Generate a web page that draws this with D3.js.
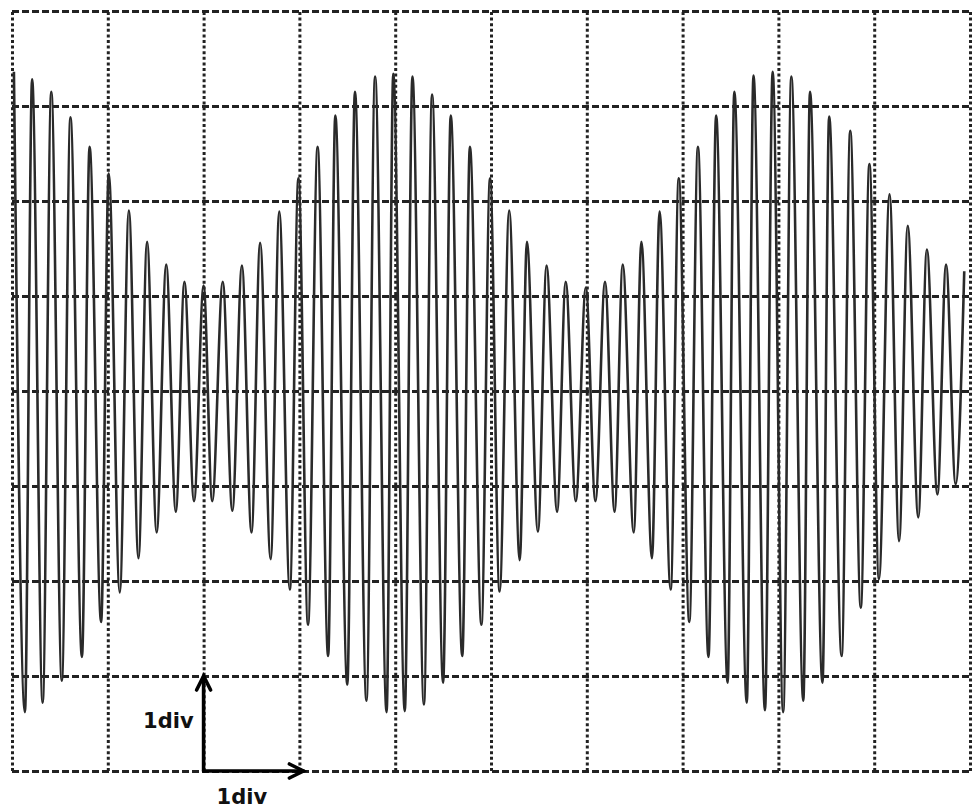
<!DOCTYPE html>
<html>
<head>
<meta charset="utf-8">
<script src="https://cdn.jsdelivr.net/npm/d3@7"></script>
<style>
  html, body { margin: 0; padding: 0; background: #fff; }
  svg { display: block; }
</style>
</head>
<body>
<svg id="scope" width="972" height="808"></svg>
<script>
// time (div) and level (div) of each peak / trough
const extremaT = [
    0.02, 0.135, 0.21, 0.32, 0.41, 0.52, 0.61, 0.73, 0.81, 0.93,
    1.01, 1.125, 1.22, 1.32, 1.41, 1.51, 1.61, 1.71, 1.80, 1.90,
    2.00, 2.09, 2.20, 2.30, 2.40, 2.50, 2.59, 2.70, 2.79, 2.90,
    2.99, 3.09, 3.19, 3.30, 3.375, 3.50, 3.58, 3.70, 3.79, 3.91,
    3.98, 4.10, 4.18, 4.30, 4.385, 4.50, 4.58, 4.70, 4.78, 4.90,
    4.99, 5.09, 5.19, 5.30, 5.375, 5.49, 5.58, 5.69, 5.78, 5.885,
    5.99, 6.09, 6.19, 6.29, 6.375, 6.49, 6.57, 6.68, 6.76, 6.875,
    6.96, 7.07, 7.16, 7.27, 7.35, 7.47, 7.54, 7.67, 7.74, 7.86,
    7.94, 8.05, 8.135, 8.26, 8.33, 8.46, 8.53, 8.66, 8.75, 8.86,
    8.95, 9.05, 9.16, 9.26, 9.35, 9.46, 9.55, 9.66, 9.75, 9.85,
    9.94
];
const extremaV = [
    3.36, -3.38, 3.28, -3.28, 3.15, -3.05, 2.88, -2.80, 2.57, -2.43,
    2.29, -2.12, 1.90, -1.76, 1.57, -1.49, 1.33, -1.27, 1.15, -1.16,
    1.11, -1.16, 1.15, -1.26, 1.32, -1.49, 1.56, -1.77, 1.89, -2.09,
    2.24, -2.46, 2.57, -2.79, 2.90, -3.09, 3.15, -3.26, 3.31, -3.38,
    3.34, -3.37, 3.31, -3.30, 3.12, -3.07, 2.90, -2.79, 2.57, -2.46,
    2.24, -2.11, 1.90, -1.78, 1.57, -1.48, 1.32, -1.27, 1.15, -1.16,
    1.09, -1.16, 1.15, -1.27, 1.33, -1.49, 1.57, -1.76, 1.89, -2.09,
    2.24, -2.43, 2.57, -2.80, 2.90, -3.07, 3.15, -3.28, 3.32, -3.36,
    3.36, -3.38, 3.31, -3.26, 3.15, -3.07, 2.89, -2.79, 2.74, -2.28,
    2.39, -1.98, 2.07, -1.58, 1.74, -1.33, 1.49, -1.09, 1.33, -0.98,
    1.26
];

const xDivs = d3.range(0, 11);   // 10 horizontal divisions
const yDivs = d3.range(-4, 5);   // 8 vertical divisions
const scaleLabel = "1div";

const svg = d3.select("#scope");

const x = d3.scaleLinear().domain([0, 10]).range([12, 970]);
const y = d3.scaleLinear().domain([-4, 4]).range([771, 11]);

// grid, dotted like the scope graticule
const vGrid = svg.append("g")
    .attr("transform", `translate(0, ${y(-4)})`)
    .call(d3.axisBottom(x).tickValues(xDivs).tickSize(-(y(-4) - y(4))).tickFormat(""));
vGrid.select(".domain").remove();
vGrid.selectAll(".tick line")
    .attr("stroke", "#222")
    .attr("stroke-width", 3)
    .attr("stroke-dasharray", "3,2.6");

const hGrid = svg.append("g")
    .attr("transform", `translate(${x(0)}, 0)`)
    .call(d3.axisLeft(y).tickValues(yDivs).tickSize(-(x(10) - x(0))).tickFormat(""));
hGrid.select(".domain").remove();
hGrid.selectAll(".tick line")
    .attr("stroke", "#222")
    .attr("stroke-width", 2.8)
    .attr("stroke-dasharray", "7,3");

// trace
const pts = extremaT.map((t, i) => [t, extremaV[i]]);
const line = d3.line()
    .x(d => x(d[0]))
    .y(d => y(d[1]))
    .curve(d3.curveMonotoneX);

svg.append("path")
    .datum(pts)
    .attr("fill", "none")
    .attr("stroke", "#2a2a2a")
    .attr("stroke-width", 2.6)
    .attr("stroke-linejoin", "round")
    .attr("d", line);

// scale arrows
const ox = x(2), oy = y(-4);
const arrows = svg.append("g")
    .attr("stroke", "#000")
    .attr("stroke-width", 3.6)
    .attr("fill", "none")
    .attr("stroke-linecap", "round");

arrows.append("line").attr("x1", ox).attr("y1", oy).attr("x2", ox).attr("y2", y(-3));
arrows.append("path")
    .attr("d", `M${ox - 7},${y(-3) + 14} L${ox},${y(-3)} L${ox + 7},${y(-3) + 14}`);

arrows.append("line").attr("x1", ox).attr("y1", oy).attr("x2", x(3) + 4).attr("y2", oy);
arrows.append("path")
    .attr("d", `M${x(3) - 10},${oy - 7} L${x(3) + 4},${oy} L${x(3) - 10},${oy + 7}`);

svg.append("text")
    .attr("x", ox - 10)
    .attr("y", y(-3) + 52)
    .attr("text-anchor", "end")
    .attr("font-family", "DejaVu Sans, Verdana, sans-serif")
    .attr("font-weight", "bold")
    .attr("font-size", 21)
    .attr("fill", "#111")
    .text(scaleLabel);

svg.append("text")
    .attr("x", ox + 13)
    .attr("y", oy + 33)
    .attr("font-family", "DejaVu Sans, Verdana, sans-serif")
    .attr("font-weight", "bold")
    .attr("font-size", 21)
    .attr("fill", "#111")
    .text(scaleLabel);
</script>
</body>
</html>
